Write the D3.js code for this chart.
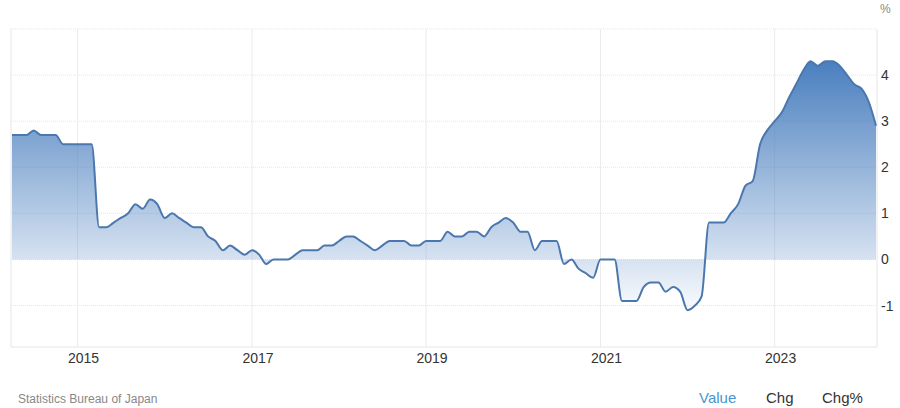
<html>
<head>
<script src="https://d3js.org/d3.v7.min.js"></script>
<style>
  body { margin: 0; background: #fff; font-family: Arial, "Liberation Sans", sans-serif; }
</style>
</head>
<body>
<svg id="chart" width="900" height="408"></svg>
<script>
// monthly values, Apr 2014 .. Mar 2024
const startYear = 2014, startMonth = 3; // April (0-based)
const values = [
  2.7, 2.7, 2.7, 2.8, 2.7, 2.7, 2.7, 2.5, 2.5,
  2.5, 2.5, 2.5, 0.7, 0.7, 0.8, 0.9, 1.0, 1.2, 1.1, 1.3, 1.2,
  0.9, 1.0, 0.9, 0.8, 0.7, 0.7, 0.5, 0.4, 0.2, 0.3, 0.2, 0.1,
  0.2, 0.1, -0.1, 0.0, 0.0, 0.0, 0.1, 0.2, 0.2, 0.2, 0.3, 0.3,
  0.4, 0.5, 0.5, 0.4, 0.3, 0.2, 0.3, 0.4, 0.4, 0.4, 0.3, 0.3,
  0.4, 0.4, 0.4, 0.6, 0.5, 0.5, 0.6, 0.6, 0.5, 0.7, 0.8, 0.9,
  0.8, 0.6, 0.6, 0.2, 0.4, 0.4, 0.4, -0.1, 0.0, -0.2, -0.3, -0.4,
  0.0, 0.0, 0.0, -0.9, -0.9, -0.9, -0.6, -0.5, -0.5, -0.7, -0.6, -0.7,
  -1.1, -1.0, -0.8, 0.8, 0.8, 0.8, 1.0, 1.2, 1.6, 1.7, 2.5, 2.8,
  3.0, 3.2, 3.5, 3.8, 4.1, 4.3, 4.2, 4.3, 4.3, 4.2, 4.0, 3.8,
  3.7, 3.4, 2.9
];
const yTicks = [-1, 0, 1, 2, 3, 4];
const xTickYears = [2015, 2017, 2019, 2021, 2023];

const data = values.map((v, i) => ({ date: new Date(startYear, startMonth + i, 1), value: v }));

const svg = d3.select("#chart");
const pLeft = 11, pRight = 877, pTop = 29, pBottom = 347;

const x = d3.scaleTime()
  .domain([new Date(2014, 3, 1), new Date(2024, 2, 1)])
  .range([12, 876]);
const y = d3.scaleLinear().domain([-1.9, 5]).range([pBottom, pTop]);

// grid
svg.append("g").selectAll("line").data([5].concat(yTicks)).enter().append("line")
  .attr("x1", pLeft).attr("x2", pRight)
  .attr("y1", d => y(d)).attr("y2", d => y(d))
  .attr("stroke", "#e6e6e6").attr("stroke-dasharray", "1,1");
svg.append("g").selectAll("line").data(xTickYears).enter().append("line")
  .attr("x1", d => x(new Date(d, 0, 1))).attr("x2", d => x(new Date(d, 0, 1)))
  .attr("y1", pTop).attr("y2", pBottom)
  .attr("stroke", "#ececec");
svg.append("line").attr("x1", pLeft).attr("x2", pLeft).attr("y1", pTop).attr("y2", pBottom).attr("stroke", "#e6e6e6");
svg.append("line").attr("x1", pRight).attr("x2", pRight).attr("y1", pTop).attr("y2", pBottom).attr("stroke", "#e6e6e6");
svg.append("line").attr("x1", pLeft).attr("x2", pRight).attr("y1", pBottom).attr("y2", pBottom).attr("stroke", "#e6e6e6");

// gradient
const grad = svg.append("defs").append("linearGradient")
  .attr("id", "fillGrad").attr("gradientUnits", "userSpaceOnUse")
  .attr("x1", 0).attr("x2", 0).attr("y1", y(4.3)).attr("y2", y(-1.1));
grad.append("stop").attr("offset", "0%").attr("stop-color", "#4a7fbf").attr("stop-opacity", 1);
grad.append("stop").attr("offset", "100%").attr("stop-color", "#4a7fbf").attr("stop-opacity", 0.03);

const curve = d3.curveMonotoneX;
svg.append("path").datum(data)
  .attr("d", d3.area().x(d => x(d.date)).y0(y(0)).y1(d => y(d.value)).curve(curve))
  .attr("fill", "url(#fillGrad)");
svg.append("path").datum(data)
  .attr("d", d3.line().x(d => x(d.date)).y(d => y(d.value)).curve(curve))
  .attr("fill", "none").attr("stroke", "#4a77ad").attr("stroke-width", 2);

// y labels
svg.append("g").selectAll("text").data(yTicks).enter().append("text")
  .attr("x", 881).attr("y", d => y(d) + 5)
  .attr("font-size", 14).attr("fill", "#333")
  .text(d => d);
svg.append("text").attr("x", 880).attr("y", 13).attr("font-size", 12).attr("fill", "#888").text("%");

// x labels
svg.append("g").selectAll("text").data(xTickYears).enter().append("text")
  .attr("x", d => x(new Date(d, 0, 1)) + 6).attr("y", 363)
  .attr("text-anchor", "middle").attr("font-size", 14).attr("fill", "#333")
  .text(d => d);

// footer
svg.append("text").attr("x", 18).attr("y", 403).attr("font-size", 12).attr("fill", "#888").text("Statistics Bureau of Japan");
svg.append("text").attr("x", 699).attr("y", 403).attr("font-size", 15).attr("fill", "#4a96d2").text("Value");
svg.append("text").attr("x", 766).attr("y", 403).attr("font-size", 15).attr("fill", "#333").text("Chg");
svg.append("text").attr("x", 822).attr("y", 403).attr("font-size", 15).attr("fill", "#333").text("Chg%");
</script>
</body>
</html>
